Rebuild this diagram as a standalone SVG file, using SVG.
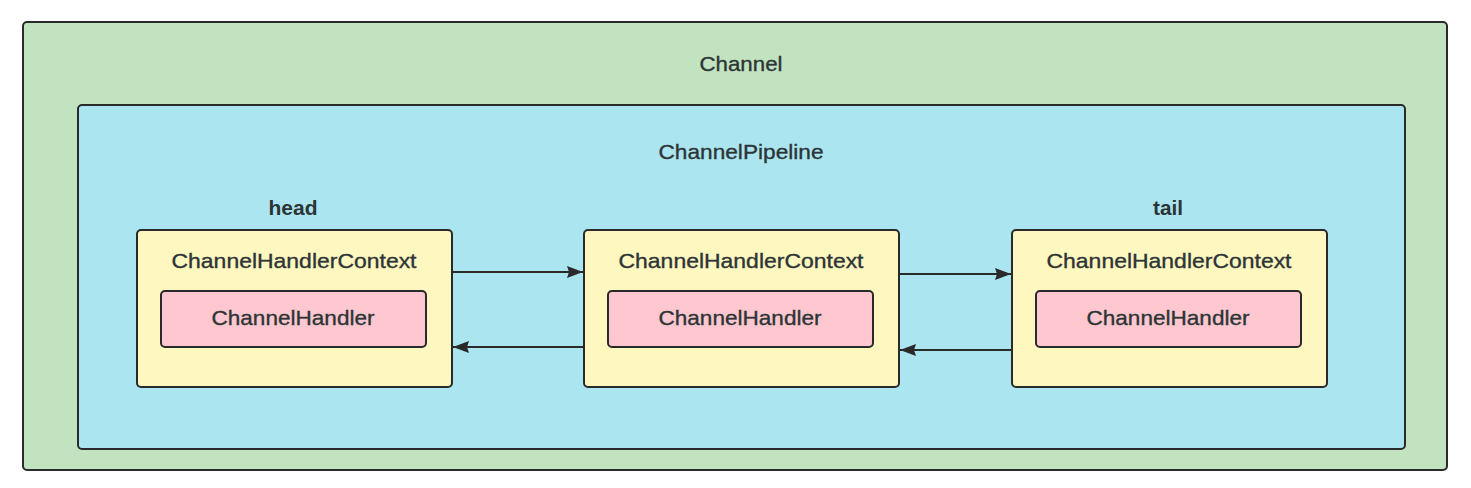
<svg xmlns="http://www.w3.org/2000/svg" width="1471" height="488" viewBox="0 0 1471 488">
<style>
  .box { stroke: #2a2a2a; stroke-width: 2; }
  .channel { fill: #c2e3c0; }
  .pipeline { fill: #abe6f0; }
  .ctx { fill: #fff7c0; }
  .handler { fill: #ffc7cf; }
  text { font-family: "Liberation Sans", Arial, sans-serif; font-size: 21px; text-anchor: middle; fill: #2d3436; stroke: #2d3436; stroke-width: 0.35; }
  .lbl { font-weight: bold; stroke-width: 0; }
  .conn { stroke: #2a2a2a; stroke-width: 2; fill: none; marker-end: url(#arrow); }
</style>
<defs>
  <marker id="arrow" viewBox="0 0 16 12" refX="16" refY="6" markerWidth="16" markerHeight="12" markerUnits="userSpaceOnUse" orient="auto">
    <path d="M0,0 L16,6 L0,12 L2,6 z" fill="#2a2a2a"/>
  </marker>
</defs>
<rect width="1471" height="488" fill="#ffffff"/>
<g id="channel">
  <rect class="box channel" x="23" y="22" width="1424" height="448" rx="4"/>
  <text x="741" y="71" textLength="83" lengthAdjust="spacingAndGlyphs">Channel</text>
</g>
<g id="pipeline">
  <rect class="box pipeline" x="78" y="105" width="1327" height="344" rx="4"/>
  <text x="741" y="159" textLength="165" lengthAdjust="spacingAndGlyphs">ChannelPipeline</text>
  <text class="lbl" x="293" y="215" textLength="49" lengthAdjust="spacingAndGlyphs">head</text>
  <text class="lbl" x="1168" y="215" textLength="30" lengthAdjust="spacingAndGlyphs">tail</text>
</g>
<g id="ctx-head">
  <rect class="box ctx" x="137" y="230" width="315" height="157" rx="4"/>
  <text x="294" y="268" textLength="245" lengthAdjust="spacingAndGlyphs">ChannelHandlerContext</text>
</g>
<g id="handler-head">
  <rect class="box handler" x="161" y="291" width="265" height="56" rx="4"/>
  <text x="293" y="325" textLength="163" lengthAdjust="spacingAndGlyphs">ChannelHandler</text>
</g>
<g id="ctx-mid">
  <rect class="box ctx" x="584" y="230" width="315" height="157" rx="4"/>
  <text x="741" y="268" textLength="245" lengthAdjust="spacingAndGlyphs">ChannelHandlerContext</text>
</g>
<g id="handler-mid">
  <rect class="box handler" x="608" y="291" width="265" height="56" rx="4"/>
  <text x="740" y="325" textLength="163" lengthAdjust="spacingAndGlyphs">ChannelHandler</text>
</g>
<g id="ctx-tail">
  <rect class="box ctx" x="1012" y="230" width="315" height="157" rx="4"/>
  <text x="1169" y="268" textLength="245" lengthAdjust="spacingAndGlyphs">ChannelHandlerContext</text>
</g>
<g id="handler-tail">
  <rect class="box handler" x="1036" y="291" width="265" height="56" rx="4"/>
  <text x="1168" y="325" textLength="163" lengthAdjust="spacingAndGlyphs">ChannelHandler</text>
</g>
<g id="connectors">
  <line class="conn" x1="453" y1="272" x2="583" y2="272"/>
  <line class="conn" x1="900" y1="274" x2="1011" y2="274"/>
  <line class="conn" x1="583" y1="347" x2="453" y2="347"/>
  <line class="conn" x1="1011" y1="350" x2="900" y2="350"/>
</g>
</svg>
